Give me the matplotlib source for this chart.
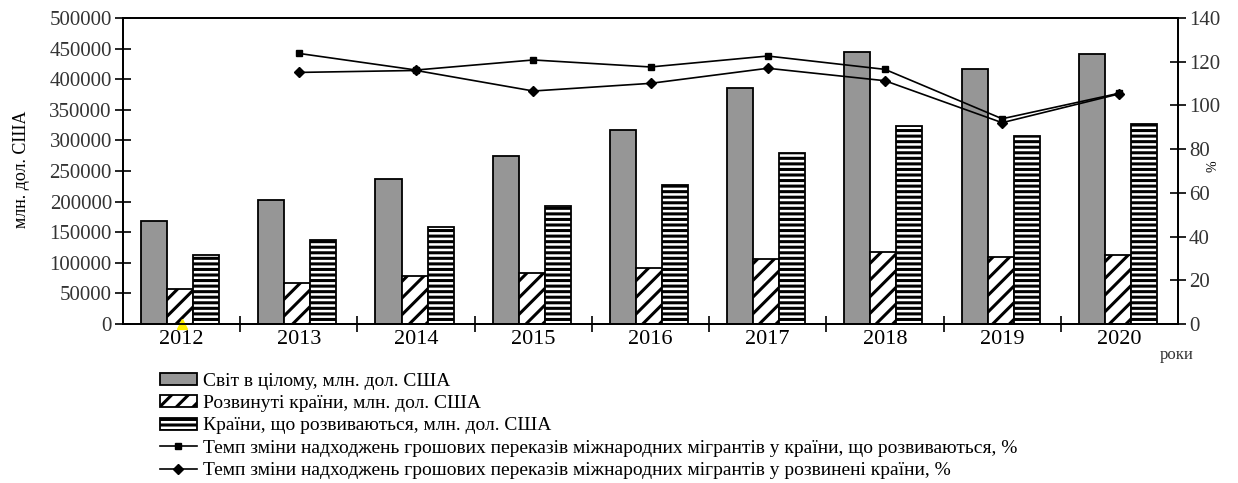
import numpy as np
import matplotlib
matplotlib.use("Agg")
import matplotlib.pyplot as plt
from matplotlib.ticker import FixedLocator, NullFormatter

plt.rcParams['font.family'] = ['Liberation Serif', 'DejaVu Serif']
plt.rcParams['hatch.linewidth'] = 2.2

years = ['2012', '2013', '2014', '2015', '2016', '2017', '2018', '2019', '2020']
world = [168500, 202000, 236500, 274000, 317000, 385000, 444000, 416000, 441500]
developed = [56800, 66500, 78400, 83900, 91500, 106200, 118200, 109500, 112200]
developing = [112200, 137800, 158500, 192800, 227600, 279400, 323500, 307700, 326800]
rate_developing = [np.nan, 123.8, 116.2, 120.8, 117.6, 122.6, 116.5, 93.9, 105.6]
rate_developed = [np.nan, 115.1, 116.0, 106.6, 110.1, 117.0, 111.3, 92.1, 105.3]
marker_year = ['2012']
marker_value = [0]

labels = ['Світ в цілому, млн. дол. США',
          'Розвинуті країни, млн. дол. США',
          'Країни, що розвиваються, млн. дол. США',
          'Темп зміни надходжень грошових переказів міжнародних мігрантів у країни, що розвиваються, %',
          'Темп зміни надходжень грошових переказів міжнародних мігрантів у розвинені країни, %']

W, H = 1238, 483
fig = plt.figure(figsize=(W / 100, H / 100), dpi=100)
ax = fig.add_axes([123 / W, 1 - 324 / H, (1178 - 123) / W, (324 - 18) / H])
ax2 = ax.twinx()

x = np.arange(len(years))
bw = 0.222
off = -0.013
b1 = ax.bar(x + off - bw, world, bw, color='#969696', edgecolor='black', linewidth=1.3, label=labels[0])
b2 = ax.bar(x + off, developed, bw, color='white', edgecolor='black', hatch='//', linewidth=1.3, label=labels[1])
b3 = ax.bar(x + off + bw, developing, bw, color='white', edgecolor='black', hatch='---', linewidth=1.3, label=labels[2])

l1, = ax2.plot(x, rate_developing, color='black', lw=1.2, marker='s', ms=4.5, label=labels[3])
l2, = ax2.plot(x, rate_developed, color='black', lw=1.2, marker='D', ms=5, label=labels[4])
ax.plot([years.index(y) for y in marker_year], marker_value, linestyle='none', marker='^',
        color='#ffee00', ms=7, clip_on=False, zorder=5)

ax.set_xlim(-0.5, len(years) - 0.5)
ax.set_ylim(0, 500000)
ax2.set_ylim(0, 140)
ax.set_yticks(np.arange(0, 500001, 50000))
ax2.set_yticks(np.arange(0, 141, 20))
ax.set_xticks(x)
ax.set_xticklabels(years, fontsize=16)
ax.xaxis.set_minor_locator(FixedLocator(np.arange(0.5, len(years) - 1, 1.0)))
ax.xaxis.set_minor_formatter(NullFormatter())
ax.tick_params(axis='x', which='major', length=0, pad=4)
ax.tick_params(axis='x', which='minor', direction='inout', length=12, width=1.2)
ax.tick_params(axis='y', direction='inout', length=12, width=1.2, labelsize=15, pad=2)
ax2.tick_params(axis='y', direction='inout', length=12, width=1.2, labelsize=15, pad=2)
for a in (ax, ax2):
    for s in a.spines.values():
        s.set_linewidth(1.3)
ax.tick_params(axis='y', labelcolor='#333333')
ax2.tick_params(axis='y', labelcolor='#333333')

fig.text(22 / W, 1 - 169 / H, 'млн. дол. США', rotation=90, ha='center', va='center', fontsize=13)
fig.text(1213 / W, 1 - 166 / H, '%', rotation=90, ha='center', va='center', fontsize=10)
fig.text(1177 / W, 1 - 355 / H, 'роки', ha='center', va='center', fontsize=12, color='#333333')

leg = fig.legend(handles=[b1, b2, b3, l1, l2], labels=labels, loc='upper left',
                 bbox_to_anchor=(160 / W, 1 - 373 / H), frameon=False, fontsize=14,
                 handlelength=1.9, handleheight=0.57, handletextpad=0.3, labelspacing=0.27,
                 borderpad=0, borderaxespad=0)

fig.savefig('out.png', dpi=100)
